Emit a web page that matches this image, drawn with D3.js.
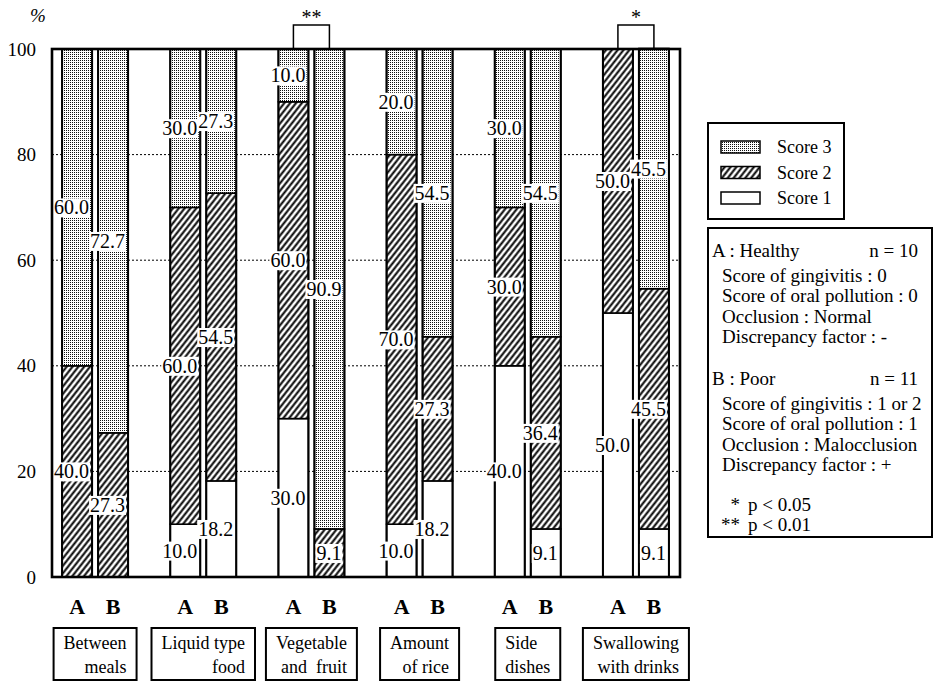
<!DOCTYPE html>
<html lang="en">
<head>
  <meta charset="UTF-8">
  <title>Score distribution</title>
  <script src="https://cdn.jsdelivr.net/npm/d3@7"></script>
  <style>
    body { margin: 0; background: #fff; }
    svg { display: block; }
    svg text { font-family: "Liberation Serif", "Times New Roman", Times, "DejaVu Serif", serif; }
  </style>
</head>
<body>
  <div id="box"></div>
  <script>
    const width = 934
    const height = 682
    const serif = '"Liberation Serif", "Times New Roman", Times, "DejaVu Serif", serif'

    // data
    const categories = ['Between meals', 'Liquid type food', 'Vegetable and fruit', 'Amount of rice', 'Side dishes', 'Swallowing with drinks']
    const categoryLines = [['Between', 'meals'], ['Liquid type', 'food'], ['Vegetable', 'and  fruit'], ['Amount', 'of rice'], ['Side', 'dishes'], ['Swallowing', 'with drinks']]
    const groups = ['A', 'B']
    const score1A = [0, 10.0, 30.0, 10.0, 40.0, 50.0]
    const score2A = [40.0, 60.0, 60.0, 70.0, 30.0, 50.0]
    const score3A = [60.0, 30.0, 10.0, 20.0, 30.0, 0]
    const score1B = [0, 18.2, 0, 18.2, 9.1, 9.1]
    const score2B = [27.3, 54.5, 9.1, 27.3, 36.4, 45.5]
    const score3B = [72.7, 27.3, 90.9, 54.5, 54.5, 45.5]
    const yTicks = [0, 20, 40, 60, 80, 100]
    const gridValues = [20, 40, 60, 80]
    const sigCategories = ['Vegetable and fruit', 'Swallowing with drinks']
    const sigMarks = ['**', '*']
    const legendLabels = ['Score 3', 'Score 2', 'Score 1']
    const legendKeys = ['s3', 's2', 's1']
    const groupTitles = ['A : Healthy', 'B : Poor']
    const groupN = ['n = 10', 'n = 11']
    const infoA = ['Score of gingivitis : 0', 'Score of oral pollution : 0', 'Occlusion : Normal', 'Discrepancy factor : -']
    const infoB = ['Score of gingivitis : 1 or 2', 'Score of oral pollution : 1', 'Occlusion : Malocclusion', 'Discrepancy factor : +']
    const pMarks = ['*', '**']
    const pNotes = ['p < 0.05', 'p < 0.01']

    const plotLeft = 52, plotRight = 680, plotTop = 49, plotBottom = 577

    const svg = d3.select('#box').append('svg')
      .attr('width', width)
      .attr('height', height)
      .attr('font-family', serif)

    // fill patterns: stipple for score 3, hatching for score 2
    const defs = svg.append('defs')
    const dots = defs.append('pattern').attr('id', 'dots')
      .attr('patternUnits', 'userSpaceOnUse').attr('width', 2).attr('height', 2)
    dots.append('rect').attr('width', 2).attr('height', 2).attr('fill', '#fff')
    dots.append('rect').attr('width', 1).attr('height', 1).attr('fill', '#111')
    const hatch = defs.append('pattern').attr('id', 'hatch')
      .attr('patternUnits', 'userSpaceOnUse').attr('width', 4.6).attr('height', 4.6)
      .attr('patternTransform', 'rotate(38)')
    hatch.append('rect').attr('width', 4.6).attr('height', 4.6).attr('fill', '#fff')
    hatch.append('line').attr('x1', 2.3).attr('x2', 2.3).attr('y1', 0).attr('y2', 4.6)
      .attr('stroke', '#000').attr('stroke-width', 2)
    const fills = { s1: '#fff', s2: 'url(#hatch)', s3: 'url(#dots)' }

    // scales
    const x = d3.scaleBand().domain(categories).range([41, 690])
    const sub = d3.scaleBand().domain(groups).range([-33, 33]).paddingInner(1 / 6)
    const y = d3.scaleLinear().domain([0, 100]).range([plotBottom, plotTop])
    const cx = c => x(c) + x.bandwidth() / 2

    // stacked rows
    const rows = []
    categories.forEach((c, i) => {
      rows.push({ cat: c, grp: 'A', s1: score1A[i], s2: score2A[i], s3: score3A[i] })
      rows.push({ cat: c, grp: 'B', s1: score1B[i], s2: score2B[i], s3: score3B[i] })
    })
    const series = d3.stack().keys(['s1', 's2', 's3'])(rows)
    const barX = d => cx(d.data.cat) + sub(d.data.grp)

    // dotted grid
    svg.append('g').selectAll('line').data(gridValues).join('line')
      .attr('x1', plotLeft).attr('x2', plotRight)
      .attr('y1', d => y(d)).attr('y2', d => y(d))
      .attr('stroke', '#000').attr('stroke-width', 1).attr('stroke-dasharray', '2,2')

    // bar segments
    const segs = svg.append('g')
    series.forEach(s => {
      segs.append('g').selectAll('rect').data(s.filter(d => d[1] > d[0])).join('rect')
        .attr('x', barX)
        .attr('width', sub.bandwidth())
        .attr('y', d => y(d[1]))
        .attr('height', d => y(d[0]) - y(d[1]))
        .attr('fill', fills[s.key])
        .attr('stroke', '#000').attr('stroke-width', 1.6)
    })
    // bar outlines
    svg.append('g').selectAll('rect').data(rows).join('rect')
      .attr('x', d => cx(d.cat) + sub(d.grp))
      .attr('width', sub.bandwidth())
      .attr('y', d => y(Math.min(100, d.s1 + d.s2 + d.s3)))
      .attr('height', d => y(0) - y(Math.min(100, d.s1 + d.s2 + d.s3)))
      .attr('fill', 'none').attr('stroke', '#000').attr('stroke-width', 2)

    // value labels with white background
    const labels = svg.append('g').attr('font-size', 20)
    series.forEach(s => {
      s.filter(d => d[1] > d[0]).forEach(d => {
        const g = labels.append('g')
        const t = g.append('text')
          .attr('x', barX(d) + sub.bandwidth() - 3)
          .attr('y', y((d[0] + d[1]) / 2))
          .attr('dy', '0.35em')
          .attr('text-anchor', 'end')
          .text((d[1] - d[0]).toFixed(1))
        const b = t.node().getBBox()
        g.insert('rect', 'text')
          .attr('x', b.x - 1).attr('y', b.y + 2)
          .attr('width', b.width + 2).attr('height', b.height - 3)
          .attr('fill', '#fff')
      })
    })

    // frame
    svg.append('rect')
      .attr('x', plotLeft).attr('y', plotTop)
      .attr('width', plotRight - plotLeft).attr('height', plotBottom - plotTop)
      .attr('fill', 'none').attr('stroke', '#000').attr('stroke-width', 2.6)

    // y axis
    svg.append('g')
      .attr('transform', `translate(${plotLeft},0)`)
      .call(d3.axisLeft(y).tickValues(yTicks).tickSize(0).tickPadding(16))
      .call(g => g.select('.domain').remove())
      .attr('font-family', serif)
      .attr('font-size', 19)
      .selectAll('text').attr('fill', '#000')
    svg.append('text').attr('x', 38).attr('y', 22).attr('text-anchor', 'middle')
      .attr('font-size', 19).attr('font-style', 'italic').text('%')

    // significance brackets
    sigCategories.forEach((c, i) => {
      const m = cx(c)
      svg.append('path')
        .attr('d', `M${m - 18},${plotTop} V${plotTop - 24} H${m + 18} V${plotTop}`)
        .attr('fill', 'none').attr('stroke', '#000').attr('stroke-width', 1.5)
      svg.append('text').attr('x', m).attr('y', plotTop - 25).attr('text-anchor', 'middle')
        .attr('font-size', 20).text(sigMarks[i])
    })

    // A / B under bars
    categories.forEach(c => {
      groups.forEach(gr => {
        svg.append('text')
          .attr('x', cx(c) + sub(gr) + sub.bandwidth() / 2)
          .attr('y', 614)
          .attr('text-anchor', 'middle')
          .attr('font-size', 22).attr('font-weight', 'bold')
          .text(gr)
      })
    })

    // category boxes
    categories.forEach((c, i) => {
      const g = svg.append('g').attr('font-size', 18)
      const t1 = g.append('text').attr('y', 649).text(categoryLines[i][0])
      const t2 = g.append('text').attr('y', 673).attr('text-anchor', 'end')
        .style('white-space', 'pre').text(categoryLines[i][1])
      const w = Math.max(t1.node().getComputedTextLength(), t2.node().getComputedTextLength()) + 20
      const left = cx(c) - w / 2
      t1.attr('x', left + 10)
      t2.attr('x', left + w - 10)
      g.insert('rect', 'text')
        .attr('x', left).attr('y', 628).attr('width', w).attr('height', 52)
        .attr('fill', '#fff').attr('stroke', '#000').attr('stroke-width', 2)
    })

    // legend
    const lg = svg.append('g')
    lg.append('rect').attr('x', 708).attr('y', 123).attr('width', 136).attr('height', 96)
      .attr('fill', '#fff').attr('stroke', '#000').attr('stroke-width', 2)
    legendLabels.forEach((l, i) => {
      const yy = 147 + i * 25.5
      lg.append('rect').attr('x', 721).attr('y', yy - 6).attr('width', 39).attr('height', 12)
        .attr('fill', fills[legendKeys[i]]).attr('stroke', '#000').attr('stroke-width', 1.5)
      lg.append('text').attr('x', 777).attr('y', yy).attr('dy', '0.35em')
        .attr('font-size', 18).text(l)
    })

    // group description box
    const info = svg.append('g').attr('font-size', 19)
    info.append('rect').attr('x', 708).attr('y', 228).attr('width', 224).attr('height', 309)
      .attr('fill', '#fff').attr('stroke', '#000').attr('stroke-width', 2)
    const blocks = [infoA, infoB]
    const blockTop = [250, 378]
    blocks.forEach((lines, k) => {
      info.append('text').attr('x', 712).attr('y', blockTop[k]).attr('dy', '0.35em').text(groupTitles[k])
      info.append('text').attr('x', 918).attr('y', blockTop[k]).attr('dy', '0.35em')
        .attr('text-anchor', 'end').text(groupN[k])
      lines.forEach((l, j) => {
        info.append('text').attr('x', 722).attr('y', blockTop[k] + 25 + j * 20.5)
          .attr('dy', '0.35em').text(l)
      })
    })
    pNotes.forEach((p, k) => {
      const yy = 504 + k * 20
      info.append('text').attr('x', 740).attr('y', yy).attr('dy', '0.35em')
        .attr('text-anchor', 'end').text(pMarks[k])
      info.append('text').attr('x', 748).attr('y', yy).attr('dy', '0.35em').text(p)
    })
  </script>
</body>
</html>
